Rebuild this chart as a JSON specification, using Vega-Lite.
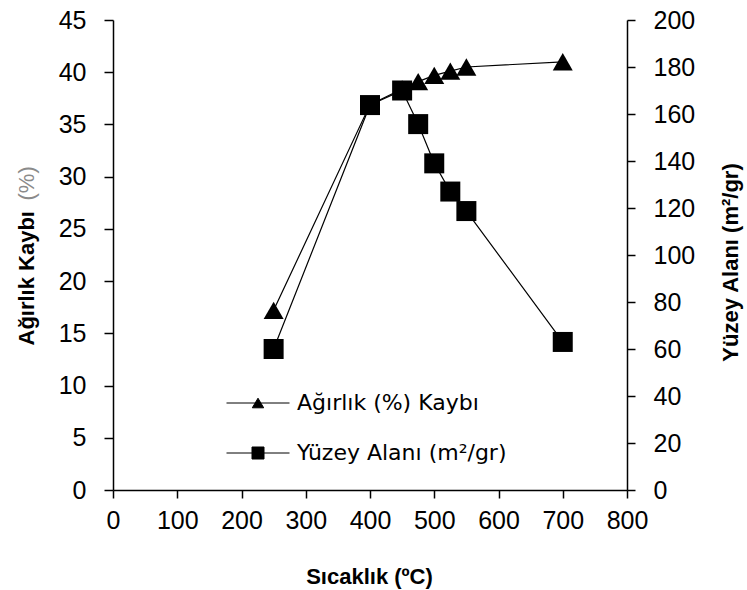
{
  "$schema": "https://vega.github.io/schema/vega-lite/v6.json",
  "width": 514,
  "height": 470,
  "autosize": {"type": "none"},
  "padding": {"left": 113, "top": 20, "right": 120, "bottom": 100},
  "background": "white",
  "config": {
    "view": {"stroke": null},
    "font": "Liberation Sans",
    "axis": {
      "grid": false,
      "domainColor": "black",
      "tickColor": "black",
      "labelColor": "black",
      "titleColor": "black",
      "domainWidth": 1.5,
      "tickWidth": 1.5,
      "labelFontSize": 25,
      "labelFont": "Liberation Sans",
      "titleFont": "Liberation Sans",
      "labelFlush": false,
      "labelOverlap": false
    }
  },
  "data": {
    "values": [
      {"T": 250, "seri": "Ağırlık (%) Kaybı", "deger": 17.2},
      {"T": 400, "seri": "Ağırlık (%) Kaybı", "deger": 36.9},
      {"T": 450, "seri": "Ağırlık (%) Kaybı", "deger": 38.4},
      {"T": 475, "seri": "Ağırlık (%) Kaybı", "deger": 39.1},
      {"T": 500, "seri": "Ağırlık (%) Kaybı", "deger": 39.7},
      {"T": 525, "seri": "Ağırlık (%) Kaybı", "deger": 40.1},
      {"T": 550, "seri": "Ağırlık (%) Kaybı", "deger": 40.5},
      {"T": 700, "seri": "Ağırlık (%) Kaybı", "deger": 41.0},
      {"T": 250, "seri": "Yüzey Alanı (m²/gr)", "deger": 60},
      {"T": 400, "seri": "Yüzey Alanı (m²/gr)", "deger": 163.8},
      {"T": 450, "seri": "Yüzey Alanı (m²/gr)", "deger": 170},
      {"T": 475, "seri": "Yüzey Alanı (m²/gr)", "deger": 155.7},
      {"T": 500, "seri": "Yüzey Alanı (m²/gr)", "deger": 139},
      {"T": 525, "seri": "Yüzey Alanı (m²/gr)", "deger": 127},
      {"T": 550, "seri": "Yüzey Alanı (m²/gr)", "deger": 118.7},
      {"T": 700, "seri": "Yüzey Alanı (m²/gr)", "deger": 63}
    ]
  },
  "encoding": {
    "x": {
      "field": "T",
      "type": "quantitative",
      "scale": {"domain": [0, 800], "nice": false},
      "axis": {
        "values": [0, 100, 200, 300, 400, 500, 600, 700, 800],
        "title": "Sıcaklık  (ºC)",
        "tickSize": 8,
        "labelPadding": 10,
        "titleFontSize": 22,
        "titleFontWeight": "bold",
        "titleX": 256,
        "titleY": 93,
        "titleBaseline": "alphabetic"
      }
    }
  },
  "layer": [
    {
      "transform": [{"filter": "datum.seri === 'Ağırlık (%) Kaybı'"}],
      "mark": {"type": "line", "strokeWidth": 1.2},
      "encoding": {
        "y": {
          "field": "deger",
          "type": "quantitative",
          "scale": {"domain": [0, 45], "nice": false},
          "axis": {
            "orient": "left",
            "values": [0, 5, 10, 15, 20, 25, 30, 35, 40, 45],
            "tickSize": 9,
            "labelPadding": 18,
            "title": "Ağırlık Kaybı",
            "titleFontSize": 22,
            "titleFontWeight": "bold",
            "titleAngle": 270,
            "titleX": -87,
            "titleY": 325,
            "titleAlign": "left",
            "titleBaseline": "middle"
          }
        },
        "stroke": {
          "field": "seri",
          "type": "nominal",
          "scale": {"domain": ["Ağırlık (%) Kaybı", "Yüzey Alanı (m²/gr)"], "range": ["black", "black"]},
          "legend": {
            "orient": "none",
            "legendX": 134,
            "legendY": 372,
            "title": null,
            "padding": 0,
            "symbolSize": 144,
            "labelFont": "DejaVu Sans",
            "labelFontSize": 22,
            "labelColor": "black",
            "labelLimit": 0,
            "labelOffset": 28,
            "rowPadding": 28,
            "symbolStrokeWidth": 1,
            "symbolStrokeColor": "black",
            "symbolFillColor": "black",
            "encode": {
              "symbols": {
                "update": {
                  "shape": [
                    {"test": "indexof(datum.label, 'Kayb') >= 0", "value": "M-5.25,0H5.25M0,-0.8L0.95,0.8L-0.95,0.8Z"},
                    {"value": "M-5.25,0H5.25M-1,-1H1V1H-1Z"}
                  ],
                  "fill": {"value": "black"},
                  "stroke": {"value": "black"},
                  "strokeWidth": {"value": 1},
                  "opacity": {"value": 1}
                }
              }
            }
          }
        }
      }
    },
    {
      "transform": [{"filter": "datum.seri === 'Ağırlık (%) Kaybı'"}],
      "mark": {"type": "point", "shape": "triangle-up", "filled": true, "size": 400, "color": "black", "opacity": 1},
      "encoding": {
        "y": {
          "field": "deger",
          "type": "quantitative",
          "scale": {"domain": [0, 45], "nice": false},
          "axis": {
            "orient": "left",
            "domain": false,
            "ticks": false,
            "labels": false,
            "title": "(%)",
            "titleFontSize": 22,
            "titleFontWeight": "normal",
            "titleColor": "#8a8a8a",
            "titleAngle": 270,
            "titleX": -87,
            "titleY": 180,
            "titleAlign": "left",
            "titleBaseline": "middle"
          }
        }
      }
    },
    {
      "transform": [{"filter": "datum.seri === 'Yüzey Alanı (m²/gr)'"}],
      "mark": {"type": "line", "strokeWidth": 1.2, "color": "black"},
      "encoding": {
        "y": {
          "field": "deger",
          "type": "quantitative",
          "scale": {"domain": [0, 200], "nice": false},
          "axis": null
        }
      }
    },
    {
      "transform": [{"filter": "datum.seri === 'Yüzey Alanı (m²/gr)'"}],
      "mark": {"type": "point", "shape": "square", "filled": true, "size": 400, "color": "black", "opacity": 1},
      "encoding": {
        "y": {
          "field": "deger",
          "type": "quantitative",
          "scale": {"domain": [0, 200], "nice": false},
          "axis": {
            "orient": "right",
            "values": [0, 20, 40, 60, 80, 100, 120, 140, 160, 180, 200],
            "tickSize": 8,
            "labelPadding": 18,
            "title": "Yüzey Alanı (m²/gr)",
            "titleFontSize": 22,
            "titleFontWeight": "bold",
            "titleAngle": 270,
            "titleX": 103,
            "titleY": 242,
            "titleAlign": "center",
            "titleBaseline": "middle"
          }
        }
      }
    }
  ],
  "resolve": {"scale": {"y": "independent"}, "axis": {"y": "independent"}}
}
